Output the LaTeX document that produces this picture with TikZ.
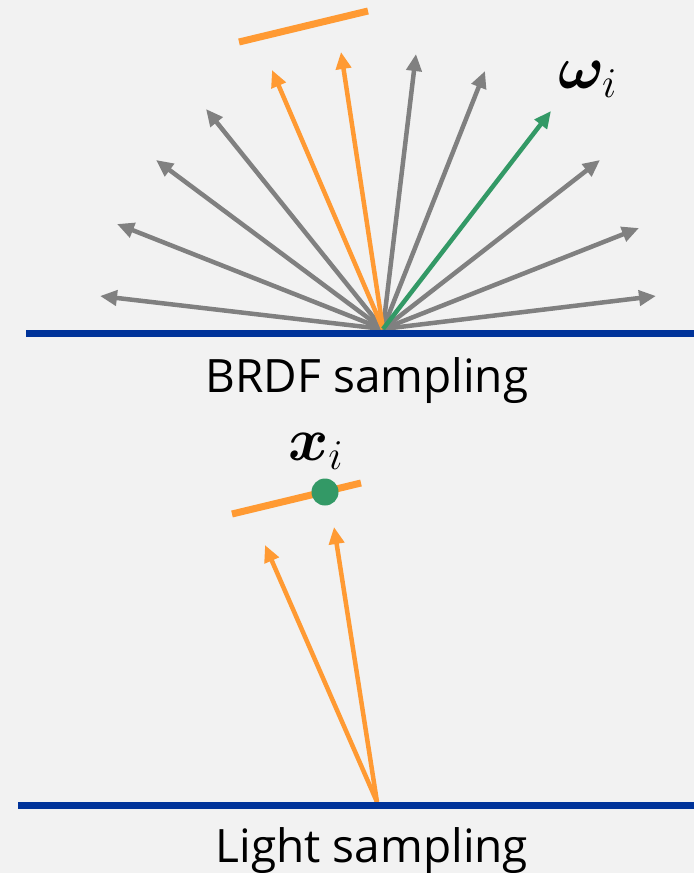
\documentclass[tikz,border=0pt]{standalone}
\usepackage{amsmath,bm}
\usepackage{fontspec}
\setmainfont{Open Sans}
\usetikzlibrary{arrows.meta}
\definecolor{bgc}{HTML}{F2F2F2}
\definecolor{bluel}{HTML}{003399}
\definecolor{grayc}{HTML}{808080}
\definecolor{orangec}{HTML}{FF9A33}
\definecolor{greenc}{HTML}{339966}
\tikzset{
  ray/.style={line width=4.5pt,-{Triangle[length=17pt,width=15pt]}},
  grayray/.style={ray,draw=grayc,fill=grayc},
  orangeray/.style={ray,draw=orangec,fill=orangec},
  greenray/.style={ray,draw=greenc,fill=greenc},
  surface/.style={line width=7pt,draw=bluel},
  lightbar/.style={line width=7pt,draw=orangec},
  caption/.style={anchor=base,font=\fontsize{46}{50}\selectfont,inner sep=0pt},
  mathlbl/.style={font=\fontsize{20}{24}\selectfont,inner sep=0pt,scale=2.95}
}
\begin{document}
\begin{tikzpicture}[x=1pt,y=-1pt]
\useasboundingbox (0,0) rectangle (694,873);
\fill[bgc] (0,0) rectangle (694,873);
\begin{scope}
\clip (0,0) rectangle (694,873);
% top section
\coordinate (o1) at (383,329);
\coordinate (s1a) at (26,333);
\coordinate (s1b) at (694,333);
\coordinate (t1) at (100,296);
\coordinate (t2) at (117,224);
\coordinate (t3) at (156,160);
\coordinate (t4) at (206,109);
\coordinate (t5) at (272,70);
\coordinate (t6) at (341,52);
\coordinate (t7) at (416,54);
\coordinate (t8) at (485,71);
\coordinate (t9) at (551,111);
\coordinate (t10) at (600,160);
\coordinate (t11) at (639,228);
\coordinate (t12) at (656,296);
\foreach \t in {t1,t2,t3,t4,t7,t8,t10,t11,t12} \draw[grayray] (o1) -- (\t);
\draw[orangeray] (o1) -- (t5);
\draw[orangeray] (o1) -- (t6);
\draw[greenray] (o1) -- (t9);
\coordinate (b1a) at (239,42);
\coordinate (b1b) at (368,11);
\draw[lightbar] (b1a) -- (b1b);
\draw[surface] (s1a) -- (s1b);
\node[mathlbl] (omega) at (588,79) {$\bm{\omega}_i$};
\node[caption] (cap1) at (367,392) {BRDF sampling};
% bottom section
\coordinate (o2) at (377,802);
\coordinate (s2a) at (18,805);
\coordinate (s2b) at (694,805);
\coordinate (u1) at (265,545);
\coordinate (u2) at (334,527);
\draw[orangeray] (o2) -- (u1);
\draw[orangeray] (o2) -- (u2);
\coordinate (b2a) at (232,514);
\coordinate (b2b) at (361,483);
\draw[lightbar] (b2a) -- (b2b);
\node[circle,fill=greenc,minimum size=27pt,inner sep=0pt] (dot) at (325,492) {};
\draw[surface] (s2a) -- (s2b);
\node[mathlbl] (xi) at (316,451) {$\bm{x}_i$};
\node[caption] (cap2) at (372,862) {Light sampling};
\end{scope}
\end{tikzpicture}
\end{document}
